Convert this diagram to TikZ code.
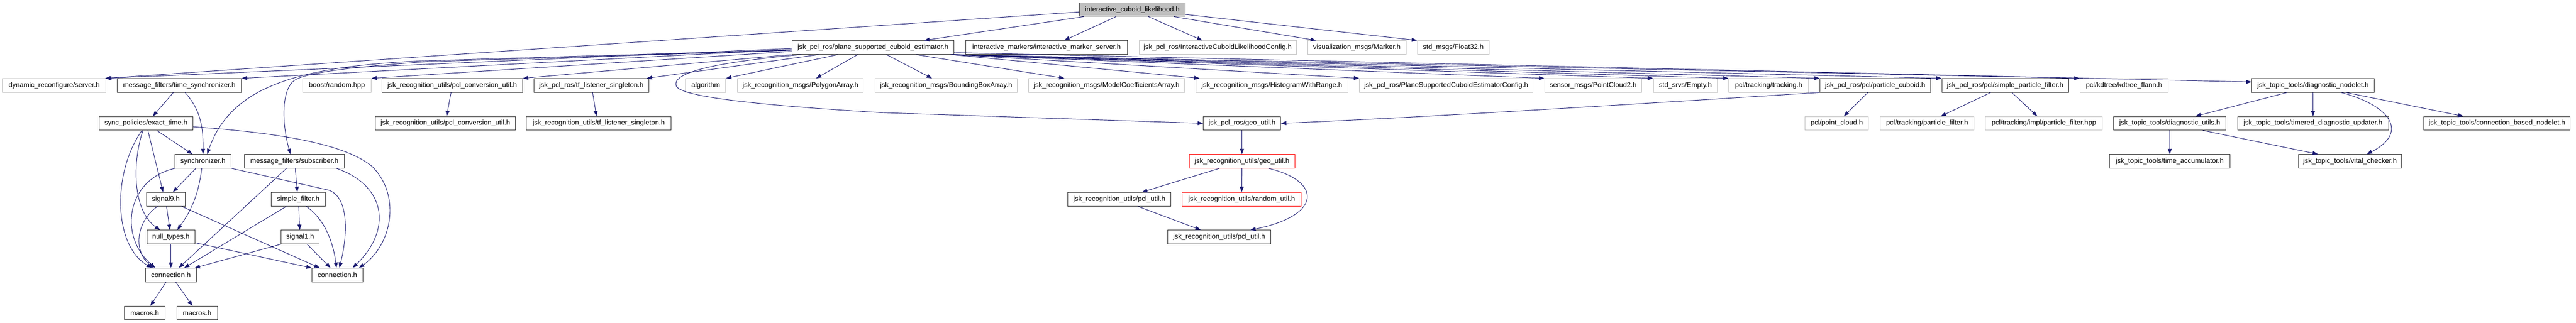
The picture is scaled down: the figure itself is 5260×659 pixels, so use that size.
\documentclass[tikz,border=0pt]{standalone}
\usepackage{fontspec}
\setmainfont{Liberation Sans}
\usetikzlibrary{arrows.meta}
\definecolor{edgeblue}{HTML}{191970}
\definecolor{boxgray}{HTML}{BFBFBF}
\definecolor{boxblack}{HTML}{303030}
\tikzset{
  box/.style={draw=boxblack, line width=1pt, minimum height=28pt, inner sep=0pt, text=black, anchor=center, font=\fontsize{14.2}{17}\selectfont},
  gbox/.style={box, draw=boxgray},
  rbox/.style={box, draw=red},
  rootbox/.style={box, fill=boxgray},
  edge/.style={draw=edgeblue, line width=1pt, -{Triangle[length=11pt,width=8pt]}},
}
\begin{document}
\begin{tikzpicture}[x=1pt,y=-1pt]
\useasboundingbox (0,0) rectangle (5260,659);
% row 0
\node[rootbox, minimum width=216pt] (n_root) at (2312,19.5) {interactive\_cuboid\_likelihood.h};
% row 1
\node[box, minimum width=331pt] (n_psce) at (1782.5,97) {jsk\_pcl\_ros/plane\_supported\_cuboid\_estimator.h};
\node[box, minimum width=330pt] (n_ims) at (2137,97) {interactive\_markers/interactive\_marker\_server.h};
\node[gbox, minimum width=321pt] (n_iclc) at (2486.5,97) {jsk\_pcl\_ros/InteractiveCuboidLikelihoodConfig.h};
\node[gbox, minimum width=201pt] (n_marker) at (2770.5,97) {visualization\_msgs/Marker.h};
\node[gbox, minimum width=147pt] (n_float) at (2967.5,97) {std\_msgs/Float32.h};
% row 2
\node[gbox, minimum width=211pt] (n_dyn) at (110.5,174.4) {dynamic\_reconfigure/server.h};
\node[box, minimum width=254pt] (n_ts) at (366,174.4) {message\_filters/time\_synchronizer.h};
\node[gbox, minimum width=140pt] (n_rand) at (688,174.4) {boost/random.hpp};
\node[box, minimum width=287pt] (n_pcu1) at (923.5,174.4) {jsk\_recognition\_utils/pcl\_conversion\_util.h};
\node[box, minimum width=235pt] (n_tfl1) at (1207.5,174.4) {jsk\_pcl\_ros/tf\_listener\_singleton.h};
\node[gbox, minimum width=82pt] (n_alg) at (1441,174.4) {algorithm};
\node[gbox, minimum width=257pt] (n_poly) at (1634.5,174.4) {jsk\_recognition\_msgs/PolygonArray.h};
\node[gbox, minimum width=290pt] (n_bbox) at (1932,174.4) {jsk\_recognition\_msgs/BoundingBoxArray.h};
\node[gbox, minimum width=319pt] (n_mca) at (2259.5,174.4) {jsk\_recognition\_msgs/ModelCoefficientsArray.h};
\node[gbox, minimum width=310pt] (n_hist) at (2597,174.4) {jsk\_recognition\_msgs/HistogramWithRange.h};
\node[gbox, minimum width=354pt] (n_pscec) at (2953,174.4) {jsk\_pcl\_ros/PlaneSupportedCuboidEstimatorConfig.h};
\node[gbox, minimum width=198pt] (n_pc2) at (3253,174.4) {sensor\_msgs/PointCloud2.h};
\node[gbox, minimum width=131pt] (n_empty) at (3441.5,174.4) {std\_srvs/Empty.h};
\node[gbox, minimum width=163pt] (n_track) at (3611.5,174.4) {pcl/tracking/tracking.h};
\node[box, minimum width=226pt] (n_pcub) at (3829,174.4) {jsk\_pcl\_ros/pcl/particle\_cuboid.h};
\node[box, minimum width=259pt] (n_spf) at (4094.5,174.4) {jsk\_pcl\_ros/pcl/simple\_particle\_filter.h};
\node[gbox, minimum width=180pt] (n_kd) at (4337,174.4) {pcl/kdtree/kdtree\_flann.h};
\node[box, minimum width=250pt] (n_dn) at (4723,174.4) {jsk\_topic\_tools/diagnostic\_nodelet.h};
% row 3
\node[box, minimum width=192pt] (n_et) at (298,251.9) {sync\_policies/exact\_time.h};
\node[box, minimum width=287pt] (n_pcu2) at (909.5,251.9) {jsk\_recognition\_utils/pcl\_conversion\_util.h};
\node[box, minimum width=295pt] (n_tfl2) at (1222.5,251.9) {jsk\_recognition\_utils/tf\_listener\_singleton.h};
\node[box, minimum width=158pt] (n_geo) at (2536,251.9) {jsk\_pcl\_ros/geo\_util.h};
\node[gbox, minimum width=129pt] (n_ptc) at (3750.5,251.9) {pcl/point\_cloud.h};
\node[gbox, minimum width=192pt] (n_pf) at (3935,251.9) {pcl/tracking/particle\_filter.h};
\node[gbox, minimum width=239pt] (n_pfi) at (4173.5,251.9) {pcl/tracking/impl/particle\_filter.hpp};
\node[box, minimum width=229pt] (n_du) at (4430.5,251.9) {jsk\_topic\_tools/diagnostic\_utils.h};
\node[box, minimum width=308pt] (n_tdu) at (4723,251.9) {jsk\_topic\_tools/timered\_diagnostic\_updater.h};
\node[box, minimum width=299pt] (n_cbn) at (5098.5,251.9) {jsk\_topic\_tools/connection\_based\_nodelet.h};
% row 4
\node[box, minimum width=115pt] (n_sync) at (414.5,329.3) {synchronizer.h};
\node[box, minimum width=204pt] (n_sub) at (601,329.3) {message\_filters/subscriber.h};
\node[rbox, minimum width=216pt] (n_rgeo) at (2536,329.3) {jsk\_recognition\_utils/geo\_util.h};
\node[box, minimum width=247pt] (n_ta) at (4430.5,329.3) {jsk\_topic\_tools/time\_accumulator.h};
\node[box, minimum width=211pt] (n_vc) at (4798.5,329.3) {jsk\_topic\_tools/vital\_checker.h};
% row 5
\node[box, minimum width=79pt] (n_sig9) at (338.5,406.8) {signal9.h};
\node[box, minimum width=110pt] (n_sf) at (609,406.8) {simple\_filter.h};
\node[box, minimum width=211pt] (n_pu1) at (2285.5,406.8) {jsk\_recognition\_utils/pcl\_util.h};
\node[rbox, minimum width=243pt] (n_ru) at (2535.5,406.8) {jsk\_recognition\_utils/random\_util.h};
% row 6
\node[box, minimum width=98pt] (n_nt) at (349,484.2) {null\_types.h};
\node[box, minimum width=78pt] (n_sig1) at (613,484.2) {signal1.h};
\node[box, minimum width=211pt] (n_pu2) at (2489.5,484.2) {jsk\_recognition\_utils/pcl\_util.h};
% row 7
\node[box, minimum width=104pt] (n_con1) at (349,561.7) {connection.h};
\node[box, minimum width=104pt] (n_con2) at (689,561.7) {connection.h};
% row 8
\node[box, minimum width=83pt] (n_mac1) at (295.5,639.1) {macros.h};
\node[box, minimum width=83pt] (n_mac2) at (402.5,639.1) {macros.h};

% ---- edges from root
\draw[edge] ([yshift=-5pt]n_root.west) -- (n_dyn.north east);
\draw[edge] ([xshift=-99pt]n_root.south) -- ([xshift=104.5pt]n_psce.north);
\draw[edge] ([xshift=-33pt]n_root.south) -- ([xshift=36pt]n_ims.north);
\draw[edge] ([xshift=33pt]n_root.south) -- ([xshift=-31.5pt]n_iclc.north);
\draw[edge] ([xshift=85pt]n_root.south) -- ([xshift=-83.5pt]n_marker.north);
\draw[edge] ([yshift=-10pt]n_root.east) -- (n_float.north west);

% ---- edges from plane_supported_cuboid_estimator
\draw[edge] ([yshift=-2pt]n_psce.west) -- ([xshift=-2pt]n_dyn.north east);
\draw[edge] ([yshift=-4pt]n_psce.west) -- (n_ts.north east);
\draw[edge] ([yshift=-8pt]n_psce.west) -- (n_rand.north east);
\draw[edge] (n_psce.south west) -- (n_pcu1.north east);
\draw[edge] ([xshift=56pt]n_psce.south west) -- ([xshift=-5pt]n_tfl1.north east);
\draw[edge] ([xshift=95pt]n_psce.south west) -- (n_alg.north east);
\draw[edge] ([xshift=135pt]n_psce.south west) -- ([xshift=32pt]n_poly.north);
\draw[edge] ([xshift=27.5pt]n_psce.south) -- ([xshift=-29pt]n_bbox.north);
\draw[edge] ([xshift=87.5pt]n_psce.south) -- ([xshift=-86pt]n_mca.north);
\draw[edge] ([xshift=-8pt]n_psce.south east) -- ([xshift=8pt]n_hist.north west);
\draw[edge] ([xshift=-6pt]n_psce.south east) -- (n_pscec.north west);
\draw[edge] ([xshift=-5pt]n_psce.south east) -- (n_pc2.north west);
\draw[edge] ([xshift=-4pt]n_psce.south east) -- (n_empty.north west);
\draw[edge] ([xshift=-3pt]n_psce.south east) -- (n_track.north west);
\draw[edge] ([xshift=-2pt]n_psce.south east) -- (n_pcub.north west);
\draw[edge] ([xshift=-1pt]n_psce.south east) -- (n_spf.north west);
\draw[edge] (n_psce.south east) -- (n_kd.north west);
\draw[edge] ([yshift=4pt]n_psce.south east) -- ([yshift=7pt]n_dn.west);
\draw[edge] ([xshift=20pt]n_psce.south west) .. controls (1450,128) and (1370,150) .. (1381,176)
   .. controls (1392,198) and (1550,215) .. (1800,230) -- (n_geo.west);
\draw[edge] ([yshift=-5pt]n_psce.west) -- (870,124) .. controls (600,135) and (470,180) .. ([xshift=8.5pt]n_sync.north);
\draw[edge] ([yshift=-6pt]n_psce.west) -- (870,126) .. controls (700,138) and (620,150) .. (600,165)
   .. controls (575,185) and (575,250) .. ([xshift=-8pt]n_sub.north);

% ---- message_filters cluster
\draw[edge] ([xshift=-12pt]n_ts.south) -- ([xshift=14pt]n_et.north);
\draw[edge] ([xshift=12pt]n_ts.south) .. controls (410,225) and (415,260) .. (n_sync.north);
\draw[edge] ([xshift=22pt]n_et.south) -- ([xshift=-21.5pt]n_sync.north);
\draw[edge] ([xshift=4pt]n_et.south) -- ([xshift=-5.5pt]n_sig9.north);
\draw[edge] ([xshift=-6pt]n_et.south) .. controls (270,330) and (270,430) .. ([xshift=-22pt]n_nt.north);
\draw[edge] ([xshift=-8pt]n_et.south) .. controls (230,350) and (230,500) .. ([xshift=-39pt]n_con1.north);
\draw[edge] ([yshift=-7pt]n_et.east) .. controls (550,270) and (700,290) .. (760,340)
   .. controls (820,400) and (800,500) .. ([xshift=44pt]n_con2.north);
\draw[edge] ([xshift=-14.5pt]n_sync.south) -- ([xshift=14.5pt]n_sig9.north);
\draw[edge] ([xshift=-2.5pt]n_sync.south) .. controls (405,400) and (390,430) .. ([xshift=13pt]n_nt.north);
\draw[edge] ([xshift=1pt]n_sync.south west) .. controls (260,365) and (240,480) .. ([xshift=-32pt]n_con1.north);
\draw[edge] (n_sync.south east) -- (670,388) .. controls (710,400) and (712,470) .. ([xshift=4pt]n_con2.north);
\draw[edge] ([xshift=1.5pt]n_sig9.south) -- ([xshift=-2pt]n_nt.north);
\draw[edge] ([xshift=-16.5pt]n_sig9.south) .. controls (280,450) and (270,510) .. ([xshift=-36pt]n_con1.north);
\draw[edge] ([xshift=-8pt]n_sig9.south east) -- ([xshift=-36pt]n_con2.north);
\draw[edge] (n_nt.south) -- (n_con1.north);
\draw[edge] ([yshift=3pt]n_nt.south east) -- (n_con2.north west);
\draw[edge] ([xshift=2pt]n_sub.south) -- ([xshift=-2pt]n_sf.north);
\draw[edge] ([xshift=-16pt]n_sub.south) -- ([xshift=16pt]n_con1.north);
\draw[edge] ([xshift=86pt]n_sub.south) .. controls (790,380) and (800,470) .. ([xshift=31pt]n_con2.north);
\draw[edge] ([xshift=-24pt]n_sf.south) -- ([xshift=27pt]n_con1.north);
\draw[edge] ([xshift=1pt]n_sf.south) -- ([xshift=-1pt]n_sig1.north);
\draw[edge] ([xshift=16pt]n_sf.south) .. controls (660,445) and (680,490) .. ([xshift=-2pt]n_con2.north);
\draw[edge] (n_sig1.south west) -- ([xshift=-4pt]n_con1.north east);
\draw[edge] ([xshift=14pt]n_sig1.south) -- ([xshift=-14pt]n_con2.north);
\draw[edge] ([xshift=-10pt]n_con1.south) -- ([xshift=11.5pt]n_mac1.north);
\draw[edge] ([xshift=10pt]n_con1.south) -- ([xshift=-9.5pt]n_mac2.north);

% ---- conversion / tf
\draw[edge] ([xshift=-2.5pt]n_pcu1.south) -- ([xshift=2.5pt]n_pcu2.north);
\draw[edge] ([xshift=2.5pt]n_tfl1.south) -- ([xshift=-4.5pt]n_tfl2.north);

% ---- geo cluster
\draw[edge] (n_pcub.south west) .. controls (3300,215) and (2900,240) .. (n_geo.east);
\draw[edge] (n_geo.south) -- (n_rgeo.north);
\draw[edge] ([xshift=-46pt]n_rgeo.south) -- ([xshift=46.5pt]n_pu1.north);
\draw[edge] (n_rgeo.south) -- (n_ru.north);
\draw[edge] ([xshift=54pt]n_rgeo.south) .. controls (2700,370) and (2700,440) .. ([xshift=63.5pt]n_pu2.north);
\draw[edge] ([xshift=37.5pt]n_pu1.south) -- ([xshift=-37.5pt]n_pu2.north);

% ---- particle filters
\draw[edge] ([xshift=-15pt]n_pcub.south) -- ([xshift=14.5pt]n_ptc.north);
\draw[edge] ([xshift=-29.5pt]n_spf.south) -- ([xshift=28pt]n_pf.north);
\draw[edge] ([xshift=13.5pt]n_spf.south) -- ([xshift=-13.5pt]n_pfi.north);

% ---- diagnostics
\draw[edge] ([xshift=-53pt]n_dn.south) -- ([xshift=52.5pt]n_du.north);
\draw[edge] (n_dn.south) -- (n_tdu.north);
\draw[edge] ([xshift=57pt]n_dn.south) .. controls (4880,215) and (4920,270) .. ([xshift=34.5pt]n_vc.north);
\draw[edge] ([xshift=67pt]n_dn.south) -- ([xshift=-68.5pt]n_cbn.north);
\draw[edge] (n_du.south) -- (n_ta.north);
\draw[edge] ([xshift=67.5pt]n_du.south) -- ([xshift=-65.5pt]n_vc.north);
\end{tikzpicture}
\end{document}
